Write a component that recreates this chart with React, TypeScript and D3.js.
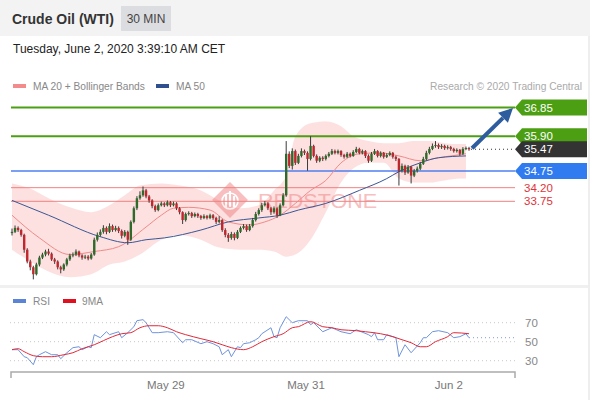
import React from 'react';
import * as d3 from 'd3';

// ---------- DATA ----------
const firstOpen = 32.70;
const closes = [
  32.74, 32.87, 32.80, 32.64, 32.15, 31.76, 31.57, 31.34, 31.66, 31.89,
  31.99, 32.09, 32.02, 31.83, 31.76, 31.57, 31.50, 31.66, 31.83, 31.96,
  31.99, 32.09, 31.96, 31.89, 31.92, 31.86, 31.99, 32.48, 32.64, 32.74,
  32.87, 32.74, 32.93, 32.80, 32.87, 32.77, 32.61, 32.74, 32.48, 33.07,
  33.52, 33.85, 33.95, 34.11, 33.91, 33.78, 33.59, 33.46, 33.62, 33.68,
  33.62, 33.72, 33.62, 33.68, 33.52, 33.39, 33.13, 33.33, 33.36, 33.26,
  33.33, 33.26, 33.20, 33.26, 33.20, 33.29, 33.20, 33.07, 33.13, 32.80,
  32.64, 32.54, 32.67, 32.54, 32.74, 32.87, 32.93, 32.80, 32.93, 33.13,
  33.33, 33.46, 33.62, 33.68, 33.52, 33.39, 33.52, 33.29, 33.62, 33.95,
  35.32, 34.92, 35.41, 35.02, 35.25, 35.41, 35.35, 35.15, 35.58, 35.25,
  35.09, 35.19, 35.15, 35.25, 35.32, 35.41, 35.35, 35.41, 35.28, 35.22,
  35.32, 35.25, 35.38, 35.48, 35.35, 35.41, 35.25, 35.09, 35.32, 35.41,
  35.25, 35.35, 35.22, 35.28, 35.35, 35.22, 35.15, 34.76, 34.92, 34.70,
  34.89, 34.60, 34.76, 34.83, 34.99, 35.15, 35.35, 35.48, 35.58, 35.61,
  35.54, 35.58, 35.51, 35.54, 35.48, 35.41, 35.45, 35.32, 35.48, 35.51,
  35.47,
];
const highs = [
  32.85, 32.95, 32.92, 32.84, 32.68, 32.20, 31.82, 31.62, 31.72, 31.95,
  32.05, 32.15, 32.18, 32.06, 31.88, 31.80, 31.62, 31.70, 31.88, 32.02,
  32.06, 32.16, 32.12, 32.00, 31.98, 31.97, 32.04, 32.55, 32.72, 32.82,
  32.96, 32.92, 33.02, 32.98, 32.94, 32.92, 32.82, 32.80, 32.78, 33.12,
  33.58, 33.92, 34.08, 34.24, 34.16, 33.96, 33.82, 33.64, 33.68, 33.74,
  33.72, 33.78, 33.76, 33.74, 33.72, 33.56, 33.42, 33.38, 33.42, 33.40,
  33.38, 33.37, 33.30, 33.32, 33.30, 33.34, 33.33, 33.24, 33.26, 33.16,
  32.86, 32.70, 32.74, 32.72, 32.80, 32.92, 33.00, 32.98, 33.00, 33.20,
  33.40, 33.52, 33.70, 33.76, 33.72, 33.56, 33.58, 33.55, 33.68, 34.02,
  35.74, 35.40, 35.50, 35.46, 35.32, 35.50, 35.46, 35.40, 35.90, 35.62,
  35.30, 35.24, 35.24, 35.30, 35.38, 35.48, 35.46, 35.46, 35.44, 35.32,
  35.38, 35.36, 35.44, 35.55, 35.52, 35.46, 35.44, 35.30, 35.38, 35.48,
  35.44, 35.40, 35.38, 35.34, 35.40, 35.38, 35.26, 35.18, 35.00, 34.96,
  34.95, 34.92, 34.82, 34.90, 35.05, 35.22, 35.42, 35.55, 35.66, 35.74,
  35.66, 35.64, 35.62, 35.60, 35.58, 35.52, 35.50, 35.48, 35.54, 35.56,
  35.55,
];
const lows = [
  32.62, 32.70, 32.74, 32.58, 32.05, 31.70, 31.47, 31.17, 31.30, 31.60,
  31.84, 31.93, 31.96, 31.78, 31.68, 31.50, 31.37, 31.45, 31.60, 31.78,
  31.90, 31.94, 31.90, 31.82, 31.84, 31.80, 31.82, 31.95, 32.42, 32.58,
  32.68, 32.66, 32.70, 32.74, 32.75, 32.70, 32.52, 32.56, 32.31, 32.44,
  33.02, 33.46, 33.80, 33.90, 33.85, 33.70, 33.52, 33.40, 33.42, 33.58,
  33.56, 33.58, 33.56, 33.58, 33.46, 33.32, 33.00, 33.08, 33.28, 33.20,
  33.22, 33.20, 33.14, 33.16, 33.15, 33.16, 33.14, 33.00, 33.02, 32.74,
  32.56, 32.41, 32.48, 32.46, 32.50, 32.70, 32.82, 32.74, 32.76, 32.88,
  33.08, 33.28, 33.40, 33.58, 33.46, 33.30, 33.34, 33.20, 33.26, 33.58,
  33.90, 34.85, 34.80, 34.95, 34.98, 35.20, 35.28, 34.76, 35.10, 35.20,
  35.02, 35.04, 35.08, 35.10, 35.20, 35.28, 35.30, 35.30, 35.22, 35.16,
  35.18, 35.20, 35.22, 35.34, 35.30, 35.30, 35.18, 35.02, 35.05, 35.28,
  35.20, 35.20, 35.16, 35.18, 35.24, 35.16, 35.08, 34.27, 34.70, 34.62,
  34.66, 34.34, 34.55, 34.70, 34.78, 34.95, 35.10, 35.30, 35.44, 35.52,
  35.48, 35.48, 35.45, 35.46, 35.42, 35.36, 35.36, 35.25, 35.28, 35.44,
  35.42,
];

// moving averages & bands: [bar index, price]
const ma50Idx = [0, 12, 29, 38, 44, 50, 62, 71, 81, 88, 94, 103, 114, 123, 127, 134, 140, 149];
const ma50Val = [33.78, 33.29, 32.58, 32.38, 32.48, 32.54, 32.80, 33.07, 33.20, 33.29, 33.46, 33.68, 34.11, 34.50, 34.73, 35.02, 35.19, 35.25];
const ma20Idx = [0, 9, 19, 27, 35, 44, 49, 53, 58, 65, 71, 78, 83, 88, 93, 98, 103, 108, 114, 121, 127, 134, 140, 149];
const ma20Val = [33.29, 32.54, 31.99, 32.09, 32.25, 32.90, 33.29, 33.52, 33.55, 33.46, 33.07, 32.97, 33.07, 33.29, 33.68, 34.11, 34.44, 35.02, 35.32, 35.35, 35.25, 35.09, 35.19, 35.32];
const bandIdx = [0, 6, 12, 19, 26, 32, 37, 42, 49, 55, 62, 68, 75, 81, 86, 90, 93, 98, 103, 108, 112, 117, 122, 127, 132, 137, 142, 147, 149];
const bandUpper = [34.34, 34.17, 33.85, 33.55, 33.39, 33.62, 33.95, 34.27, 34.34, 34.27, 34.11, 33.78, 33.52, 33.62, 34.11, 34.60, 35.90, 36.33, 36.39, 36.23, 35.90, 35.74, 35.67, 35.67, 35.74, 35.74, 35.67, 35.64, 35.64];
const bandLower = [32.15, 31.76, 31.43, 31.24, 31.34, 31.66, 31.76, 31.99, 32.48, 32.64, 32.48, 32.22, 32.15, 32.15, 32.09, 31.92, 31.99, 32.48, 33.39, 34.37, 34.83, 35.02, 35.02, 34.50, 34.37, 34.37, 34.44, 34.50, 34.50];

// RSI panel: [bar index, value]
const rsiIdx = [0, 2, 4, 5, 7, 8, 9, 11, 13, 15, 16, 18, 20, 22, 23, 25, 26, 27, 29, 31, 32, 35, 36, 38, 40, 41, 43, 44, 46, 48, 51, 53, 56, 57, 59, 62, 64, 66, 68, 69, 71, 72, 74, 75, 76, 78, 80, 81, 82, 85, 86, 87, 88, 90, 92, 94, 97, 98, 99, 102, 105, 108, 111, 113, 117, 118, 119, 120, 122, 123, 126, 127, 129, 131, 134, 135, 136, 138, 140, 143, 145, 147, 149, 150];
const rsiVal = [41.6, 41.6, 34.2, 33.2, 25.8, 34.2, 36.3, 39.5, 36.3, 36.3, 32.1, 38.4, 43.7, 44.7, 41.6, 44.7, 43.7, 57.4, 54.2, 60.5, 57.4, 60.5, 54.2, 59.5, 65.8, 72.1, 73.2, 70.0, 59.5, 59.5, 60.5, 59.5, 48.9, 52.1, 52.1, 47.9, 50.0, 47.9, 44.7, 36.3, 41.6, 34.2, 44.7, 43.7, 47.9, 48.9, 52.1, 54.2, 58.4, 64.7, 55.3, 54.2, 64.7, 76.3, 70.0, 72.1, 72.1, 67.9, 70.0, 60.5, 64.7, 60.5, 58.4, 62.6, 57.4, 55.3, 59.5, 52.1, 52.1, 57.4, 54.2, 34.2, 46.8, 38.4, 48.9, 54.2, 54.2, 60.5, 61.6, 59.5, 54.2, 55.3, 58.4, 54.2];
const rsiMaIdx = [0, 2, 4, 7, 10, 13, 17, 20, 23, 27, 30, 33, 36, 39, 42, 45, 48, 51, 54, 57, 62, 66, 69, 72, 76, 79, 82, 86, 89, 92, 94, 98, 102, 105, 108, 113, 116, 121, 125, 128, 131, 134, 136, 139, 143, 145, 150];
const rsiMaVal = [41.6, 42.6, 39.5, 35.3, 34.2, 34.2, 36.3, 38.4, 42.6, 46.8, 51.1, 55.3, 58.4, 59.5, 64.7, 66.8, 66.8, 64.7, 60.5, 57.4, 53.2, 50.0, 46.8, 43.7, 41.6, 44.7, 50.0, 55.3, 58.4, 64.7, 65.8, 71.1, 65.8, 64.7, 62.6, 61.6, 60.5, 58.4, 55.3, 52.1, 48.9, 44.7, 44.7, 50.0, 55.3, 59.5, 58.4];
const rsiLevels = [70, 50, 30];

const dateLabels = ['May 29', 'May 31', 'Jun 2'];
const dateIdx = [50.5, 96.5, 143.4];

const greenLevels = [36.85, 35.90];
const supportLevel = 34.75;
const redLevels = [34.20, 33.75];
const lastPrice = 35.47;
const target = 36.85;

// ---------- COMPONENT ----------
const FONT = '"Liberation Sans", Arial, Helvetica, sans-serif';

export default function App() {
  const N = closes.length;
  const x = d3.scaleLinear().domain([0, N - 1]).range([12, 469]);
  const y = d3.scaleLinear().domain([33.75, 36.85]).range([201.3, 107.5]);
  const yr = d3.scaleLinear().domain([30, 70]).range([360.7, 322.7]);
  const opens = closes.map((c, i) => (i === 0 ? firstOpen : closes[i - 1]));

  const line = d3.line<[number, number]>().x(d => x(d[0])).y(d => y(d[1])).curve(d3.curveMonotoneX);
  const rline = d3.line<[number, number]>().x(d => x(d[0])).y(d => yr(d[1]));
  const rmaLine = d3.line<[number, number]>().x(d => x(d[0])).y(d => yr(d[1])).curve(d3.curveMonotoneX);
  const area = d3
    .area<number>()
    .x((_, i) => x(bandIdx[i]))
    .y0((_, i) => y(bandLower[i]))
    .y1((_, i) => y(bandUpper[i]))
    .curve(d3.curveMonotoneX);

  const X0 = 11;
  const X1 = 515;
  const lx = X1; // label tip

  const labelBox = (p: number, fill: string, key: string) => {
    const cy = y(p);
    const pts = `${lx},${cy} ${lx + 7},${cy - 8} 587,${cy - 8} 587,${cy + 8} ${lx + 7},${cy + 8}`;
    return (
      <g key={key}>
        <polygon points={pts} fill={fill} />
        <text x={524} y={cy + 4} fontSize={11.5} fill="#fff" fontFamily={FONT}>{p.toFixed(2)}</text>
      </g>
    );
  };

  // arrow
  const ax0 = x(N - 1) + 3, ay0 = y(lastPrice) - 1;
  const ax1 = 513, ay1 = y(target) + 0.5;
  const ang = Math.atan2(ay1 - ay0, ax1 - ax0);
  const hl = 14, hw = 7;
  const bx = ax1 - hl * Math.cos(ang), by = ay1 - hl * Math.sin(ang);
  const head = `${ax1},${ay1} ${bx + hw * Math.sin(ang)},${by - hw * Math.cos(ang)} ${bx - hw * Math.sin(ang)},${by + hw * Math.cos(ang)}`;

  const ma50 = ma50Idx.map((d, i) => [d, ma50Val[i]] as [number, number]);
  const ma20 = ma20Idx.map((d, i) => [d, ma20Val[i]] as [number, number]);
  const rsi = rsiIdx.map((d, i) => [d, rsiVal[i]] as [number, number]);
  const rsiMa = rsiMaIdx.map((d, i) => [d, rsiMaVal[i]] as [number, number]);

  return (
    <svg width={590} height={400} style={{ position: 'absolute', left: 0, top: 0, background: '#fff' }} fontFamily={FONT}>
      {/* header */}
      <rect x={0} y={0} width={590} height={36} fill="#f3f3f3" />
      <text x={12} y={24} fontSize={14} fontWeight="bold" fill="#333">Crude Oil (WTI)</text>
      <rect x={121} y={6} width={50} height={25} fill="#dcdde0" />
      <text x={146} y={23} fontSize={12} fill="#444" textAnchor="middle">30 MIN</text>
      <text x={13} y={53} fontSize={12} fill="#222">Tuesday, June 2, 2020 3:39:10 AM CET</text>
      <rect x={588} y={36} width={2} height={364} fill="#eeeeee" />
      <rect x={0} y={285} width={588} height={3} fill="#f0f0f0" />

      {/* legend */}
      <rect x={13} y={84} width={13} height={4} fill="#f28b8b" />
      <text x={33} y={90} fontSize={10.2} fill="#888">MA 20 + Bollinger Bands</text>
      <rect x={156} y={84} width={13} height={4} fill="#2f4f8f" />
      <text x={176} y={90} fontSize={10.2} fill="#888">MA 50</text>
      <text x={582} y={90} fontSize={10.2} fill="#aaa" textAnchor="end">Research © 2020 Trading Central</text>

      {/* bollinger band */}
      <path d={area(bandUpper) || ''} fill="#fcd6d6" opacity={0.75} />

      {/* watermark */}
      <g opacity={0.5}>
        <rect x={230 - 12.7} y={200 - 12.7} width={25.4} height={25.4} fill="#f08080" transform="rotate(45 230 200)" />
        <circle cx={230} cy={201} r={8} fill="none" stroke="#fff" strokeWidth={1.6} />
        <rect x={225} y={195} width={2} height={12} fill="#fff" />
        <rect x={229} y={191} width={2} height={16} fill="#fff" />
        <rect x={233} y={196} width={2} height={11} fill="#fff" />
        <text x={258} y={208} fontSize={20} fill="#f08080" textLength={119} lengthAdjust="spacingAndGlyphs">REDSTONE</text>
      </g>

      {/* horizontal levels */}
      {greenLevels.map((p, i) => (
        <line key={'g' + i} x1={X0} x2={X1} y1={y(p)} y2={y(p)} stroke="#4c9e12" strokeWidth={2} />
      ))}
      <line x1={X0} x2={X1} y1={y(supportLevel)} y2={y(supportLevel)} stroke="#4f7ff0" strokeWidth={1.5} />
      {redLevels.map((p, i) => (
        <line key={'r' + i} x1={X0} x2={X1} y1={y(p)} y2={y(p)} stroke="#f08080" strokeWidth={1} />
      ))}
      <line x1={x(N - 1) + 2} x2={X1} y1={y(lastPrice)} y2={y(lastPrice)} stroke="#333" strokeWidth={1} strokeDasharray="1,3" />

      {/* moving averages */}
      <path d={line(ma20) || ''} fill="none" stroke="#f08a8a" strokeWidth={1} />
      <path d={line(ma50) || ''} fill="none" stroke="#3a5795" strokeWidth={1} />

      {/* candles */}
      {closes.map((c, i) => {
        const o = opens[i];
        const up = c >= o;
        const cx = x(i);
        const top = y(Math.max(o, c));
        const bot = y(Math.min(o, c));
        const col = up ? '#2e6b2a' : '#c0262d';
        return (
          <g key={'c' + i}>
            <line x1={cx} x2={cx} y1={y(highs[i])} y2={y(lows[i])} stroke="#3a3a3a" strokeWidth={1} />
            <rect x={cx - 1.2} y={top} width={2.4} height={Math.max(1, bot - top)} fill={col} />
          </g>
        );
      })}

      {/* arrow */}
      <line x1={ax0} y1={ay0} x2={bx} y2={by} stroke="#2d5c9f" strokeWidth={4} />
      <polygon points={head} fill="#2d5c9f" />

      {/* labels */}
      {labelBox(greenLevels[0], '#4c9e12', 'l1')}
      {labelBox(greenLevels[1], '#4c9e12', 'l2')}
      {labelBox(lastPrice, '#333333', 'l3')}
      {labelBox(supportLevel, '#2f7bef', 'l4')}
      {redLevels.map((p, i) => (
        <text key={'rt' + i} x={524} y={y(p) + 4} fontSize={11.5} fill="#e0333a">{p.toFixed(2)}</text>
      ))}

      {/* RSI panel */}
      <rect x={13} y={299} width={13} height={4} fill="#5b83d6" />
      <text x={33} y={305} fontSize={10.2} fill="#888">RSI</text>
      <rect x={63} y={299} width={13} height={4} fill="#e0101e" />
      <text x={82} y={305} fontSize={10.2} fill="#888">9MA</text>
      {rsiLevels.map((v, i) => (
        <g key={'rl' + i}>
          <line x1={10} x2={517} y1={yr(v)} y2={yr(v)} stroke="#c8c8c8" strokeWidth={1} strokeDasharray="1,3" />
          <text x={525} y={yr(v) + 4} fontSize={11.5} fill="#888">{v}</text>
        </g>
      ))}
      <line x1={x(N - 1)} x2={515} y1={yr(rsiVal[rsiVal.length - 1])} y2={yr(rsiVal[rsiVal.length - 1])} stroke="#7f9be0" strokeWidth={1} strokeDasharray="1,3" />
      <path d={rline(rsi) || ''} fill="none" stroke="#6f93dc" strokeWidth={1} />
      <path d={rmaLine(rsiMa) || ''} fill="none" stroke="#e02a3a" strokeWidth={1} />

      {/* x axis */}
      <path d={`M${X0},378 V372 H${X1} V378`} fill="none" stroke="#aaa" strokeWidth={1.5} />
      {dateLabels.map((t, i) => (
        <text key={'d' + i} x={x(dateIdx[i])} y={389} fontSize={11.5} fill="#777" textAnchor="middle">{t}</text>
      ))}
    </svg>
  );
}
